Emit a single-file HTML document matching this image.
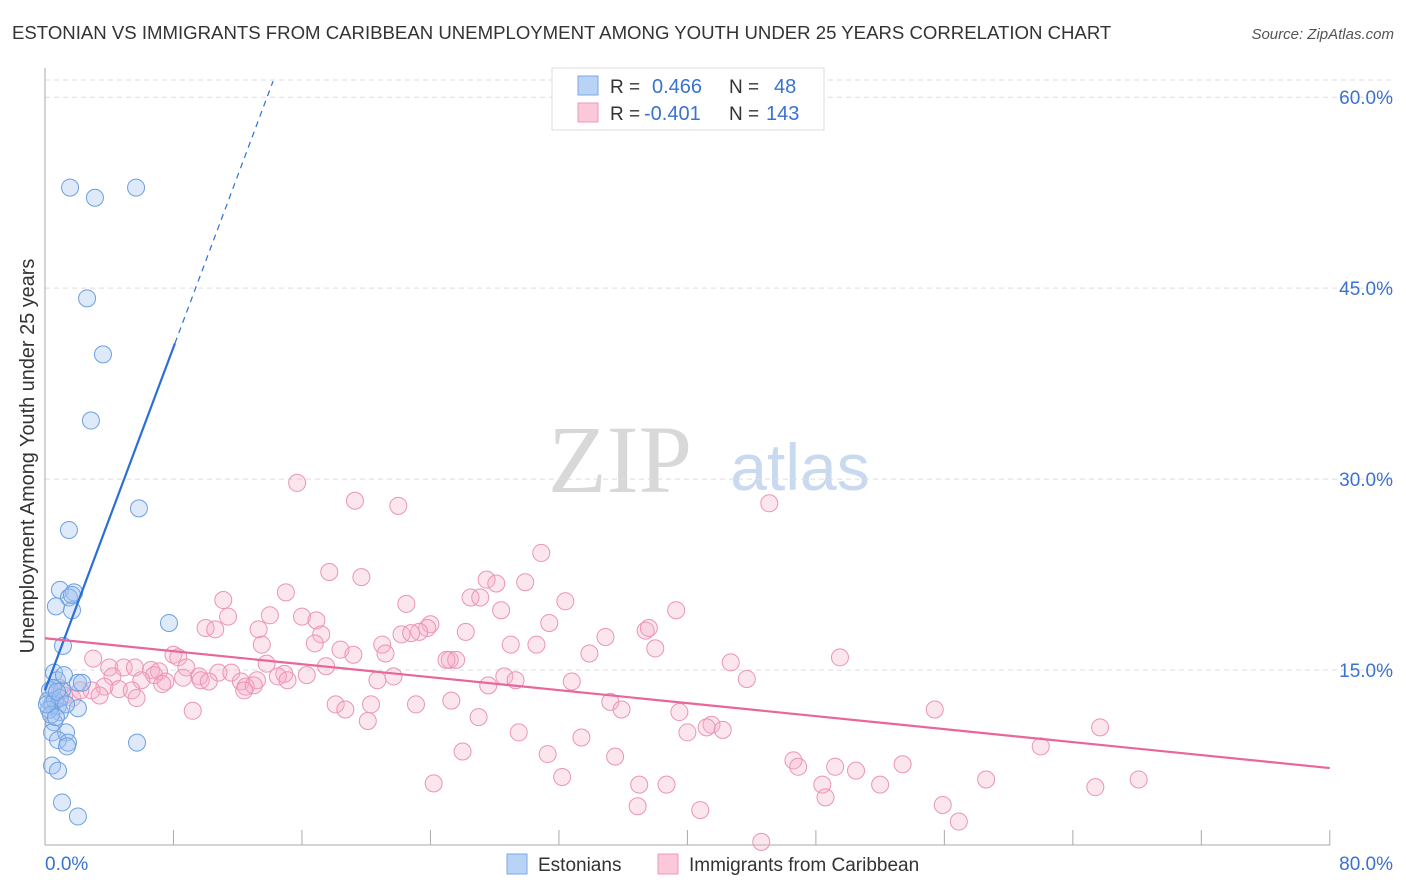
<!DOCTYPE html>
<html><head><meta charset="utf-8"><style>
body{margin:0;background:#fff;font-family:"Liberation Sans",sans-serif;}
#wrap{position:relative;width:1406px;height:892px;overflow:hidden;}
</style></head><body>
<div id="wrap">
<svg id="chart" width="1406" height="892" xmlns="http://www.w3.org/2000/svg">
<text x="12" y="39" font-size="18.6" fill="#333">ESTONIAN VS IMMIGRANTS FROM CARIBBEAN UNEMPLOYMENT AMONG YOUTH UNDER 25 YEARS CORRELATION CHART</text>
<text x="1394" y="39" font-size="15" fill="#555" font-style="italic" text-anchor="end">Source: ZipAtlas.com</text>
<text x="620" y="492" font-size="96" fill="#d8d8d8" font-family="Liberation Serif,serif" text-anchor="middle">ZIP</text>
<text x="800" y="490" font-size="66" fill="#c9d9ef" text-anchor="middle">atlas</text>
<text transform="translate(34,456) rotate(-90)" font-size="19.9" fill="#333" text-anchor="middle">Unemployment Among Youth under 25 years</text>
<g id="grid"></g><g id="axes"></g><g id="pts"></g><g id="lines"></g>
<g>
<rect x="552" y="68" width="272" height="62" fill="#fff" stroke="#ddd"/>
<rect x="578" y="76" width="20" height="19" fill="#b8d3f5" stroke="#7aa8e6"/>
<rect x="578" y="103" width="20" height="19" fill="#fbc8d8" stroke="#ec9ab6"/>
<text x="610" y="93" font-size="19" fill="#333">R =</text><text x="652" y="93" font-size="20" fill="#3a72d0">0.466</text>
<text x="729" y="93" font-size="19" fill="#333">N =</text><text x="774" y="93" font-size="20" fill="#3a72d0">48</text>
<text x="610" y="120" font-size="19" fill="#333">R =</text><text x="644" y="120" font-size="20" fill="#3a72d0">-0.401</text>
<text x="729" y="120" font-size="19" fill="#333">N =</text><text x="766" y="120" font-size="20" fill="#3a72d0">143</text>
</g>
<g>
<rect x="507" y="854" width="20" height="20" fill="#b8d3f5" stroke="#7aa8e6"/>
<text x="538" y="871" font-size="19" fill="#333">Estonians</text>
<rect x="658" y="854" width="20" height="20" fill="#fbc8d8" stroke="#ec9ab6"/>
<text x="689" y="871" font-size="19" fill="#333">Immigrants from Caribbean</text>
</g>
</svg>
</div>
<script>
const yTicks=[15,30,45,60];
const yTickLabels=["15.0%","30.0%","45.0%","60.0%"];
const xTickLabels=["0.0%","80.0%"];
const blueX=[1.56,3.11,5.67,2.62,3.61,2.86,1.49,5.85,0.93,1.81,1.49,0.68,1.68,1.12,7.72,0.56,0.75,2.05,0.31,1.06,0.19,0.44,0.81,0.93,2.05,0.56,0.44,1.31,0.81,1.43,1.37,5.73,0.44,0.81,1.06,2.05,0.62,0.25,0.5,0.93,0.37,0.68,1.18,2.3,0.12,0.75,1.68,1.31];
const blueY=[52.9,52.1,52.9,44.2,39.8,34.6,26.0,27.7,21.3,21.1,20.7,20.0,19.7,16.9,18.7,14.8,14.2,14.0,13.4,13.4,12.6,12.3,12.2,11.7,12.0,10.9,10.1,10.1,9.5,9.3,9.0,9.3,7.5,7.1,4.6,3.5,12.6,11.9,13.6,12.8,11.5,11.3,14.6,14.0,12.3,13.3,20.9,12.3];
const pinkX=[15.7,19.3,22.0,45.1,30.9,17.7,19.7,27.5,28.1,29.9,15.0,11.1,22.5,26.5,27.1,32.4,39.3,28.4,11.4,14.0,16.0,16.9,31.4,24.0,23.8,10.0,10.6,13.3,17.2,22.2,23.3,22.8,26.2,37.4,37.6,34.9,29.0,30.6,21.0,13.5,16.8,18.4,19.2,21.2,38.0,33.9,8.0,8.3,3.0,49.5,42.7,13.8,8.8,17.5,4.0,4.9,5.6,6.6,7.1,25.2,25.6,25.0,10.8,11.6,9.6,4.2,14.9,14.5,15.1,16.3,6.8,6.0,7.5,8.6,9.7,10.2,13.2,12.2,12.5,13.0,12.4,7.3,20.7,21.7,28.6,29.3,27.6,32.8,43.7,4.6,3.7,2.9,5.4,5.7,3.4,1.7,1.2,2.2,0.9,25.3,18.1,18.7,20.3,23.1,35.2,35.9,39.5,55.4,9.2,20.1,27.0,41.5,41.2,42.2,40.0,65.7,29.5,33.4,62.0,26.0,31.3,35.5,46.6,46.9,49.2,50.5,53.4,32.2,24.2,37.0,38.7,58.6,68.1,48.4,52.0,65.4,48.6,36.9,55.9,40.8,56.9,44.6];
const pinkY=[29.7,28.3,27.9,28.1,24.2,22.7,22.3,22.1,21.8,21.9,21.1,20.5,20.2,20.7,20.7,20.4,19.7,19.7,19.2,19.3,19.2,18.9,18.7,18.6,18.3,18.3,18.2,18.2,17.8,17.8,18.0,17.9,18.0,18.1,18.3,17.6,17.0,17.0,17.0,17.0,17.1,16.6,16.2,16.3,16.7,16.3,16.2,16.0,15.9,16.0,15.6,15.5,15.2,15.3,15.2,15.2,15.2,15.0,14.9,15.8,15.8,15.8,14.8,14.8,14.5,14.5,14.7,14.5,14.2,14.6,14.6,14.2,14.1,14.4,14.2,14.1,14.2,14.1,13.7,13.8,13.4,13.9,14.2,14.5,14.5,14.2,13.8,14.1,14.3,13.5,13.7,13.4,13.4,12.8,13.0,12.8,13.0,13.4,13.6,12.6,12.3,11.9,12.3,12.3,12.5,11.9,11.7,11.9,11.8,11.0,11.3,10.7,10.5,10.3,10.1,10.5,10.1,9.7,9.0,8.6,8.4,8.2,7.9,7.4,7.4,7.1,7.6,6.6,6.1,6.0,6.0,6.4,6.4,6.0,6.0,5.8,5.0,4.3,4.4,4.0,3.1,1.5];
const blueFit=[13.4,3.37];   // intercept, slope
const pinkFit=[17.5,-0.1275];

const NS="http://www.w3.org/2000/svg";
const sx=v=>45+v*16.06, sy=v=>861-v*12.73;
function mk(tag,attrs,parent){const e=document.createElementNS(NS,tag);for(const k in attrs)e.setAttribute(k,attrs[k]);document.getElementById(parent).appendChild(e);return e;}
mk('line',{x1:45,x2:1393,y1:80,y2:80,stroke:'#ddd','stroke-dasharray':'5,4'},'grid');
yTicks.forEach((t,i)=>{
  const g=mk('line',{x1:45,x2:1393,y1:sy(t),y2:sy(t),stroke:'#ddd','stroke-dasharray':'5,4'},'grid');
  
  
  const tx=mk('text',{x:1393,y:sy(t)+7,'font-size':19,fill:'#3a72d0','text-anchor':'end'},'grid');
  tx.textContent=yTickLabels[i];
  
  
});
mk('line',{x1:45,x2:45,y1:68,y2:845,stroke:'#aaa'},'axes');
mk('line',{x1:45,x2:1330,y1:845,y2:845,stroke:'#aaa'},'axes');
for(let v=0;v<=80;v+=8){const t=mk('line',{x1:sx(v),x2:sx(v),y1:830,y2:845,stroke:'#aaa'},'axes');}
const xl0=mk('text',{x:45,y:870,'font-size':19,fill:'#3a72d0'},'axes');xl0.textContent=xTickLabels[0];


const xl1=mk('text',{x:1393,y:870,'font-size':19,fill:'#3a72d0','text-anchor':'end'},'axes');xl1.textContent=xTickLabels[1];


pinkX.forEach((x,i)=>{const c=mk('circle',{cx:sx(x),cy:sy(pinkY[i]),r:8.5,fill:'rgba(246,172,198,0.3)',stroke:'#eb94b4','stroke-width':1},'pts');

});
blueX.forEach((x,i)=>{const c=mk('circle',{cx:sx(x),cy:sy(blueY[i]),r:8.5,fill:'rgba(160,196,240,0.35)',stroke:'#6d9fe0','stroke-width':1},'pts');

});
const bl=mk('line',{x1:sx(0),y1:sy(blueFit[0]),x2:sx(8.09),y2:sy(blueFit[0]+blueFit[1]*8.09),stroke:'#2b6fd6','stroke-width':2.2},'lines');


const bd=mk('line',{x1:sx(8.09),y1:sy(blueFit[0]+blueFit[1]*8.09),x2:sx(14.2),y2:sy(blueFit[0]+blueFit[1]*14.2),stroke:'#2b6fd6','stroke-width':1.2,'stroke-dasharray':'6,5'},'lines');


const pl=mk('line',{x1:sx(0),y1:sy(pinkFit[0]),x2:sx(80),y2:sy(pinkFit[0]+pinkFit[1]*80),stroke:'#e8669a','stroke-width':2.2},'lines');


</script>
</body></html>
